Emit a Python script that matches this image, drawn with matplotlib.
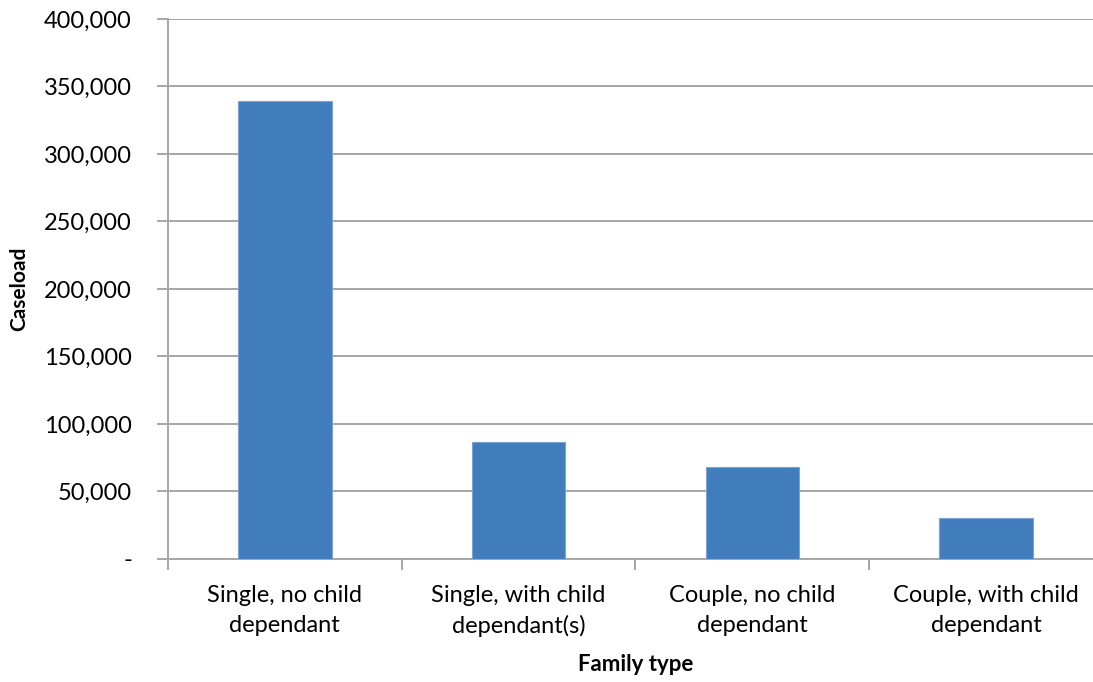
import numpy as np
import matplotlib as mpl
import matplotlib.pyplot as plt
from matplotlib.ticker import FuncFormatter

mpl.rcParams.update({'font.family': ['Lato', 'DejaVu Sans'], 'font.size': 17})

categories = ["Single, no child\ndependant", "Single, with child\ndependant(s)",
              "Couple, no child\ndependant", "Couple, with child\ndependant"]
caseload = [339400, 86300, 68400, 30400]

fig = plt.figure(figsize=(10.93, 6.82), dpi=100)
ax = fig.add_axes([0.1537, 0.1804, 0.8554, 0.7918])

x = np.arange(len(categories))
ax.bar(x, caseload, width=0.4, color="#417cbd", edgecolor="#7aa3d3", linewidth=0.8, zorder=3)

ax.set_xlim(-0.5, len(categories) - 0.5)
ax.set_ylim(0, 400000)
ax.set_yticks(np.arange(0, 400001, 50000))
ax.yaxis.set_major_formatter(FuncFormatter(lambda v, p: "-" if v == 0 else f"{int(v):,}"))
ax.grid(axis="y", color="#a6a6a6", linewidth=1.4, zorder=0)

ax.set_xticks(x)
ax.set_xticklabels(categories, linespacing=1.5)
ax.set_xticks(np.arange(-0.5, len(categories)), minor=True)
ax.tick_params(axis="x", which="major", length=0, pad=19)
ax.tick_params(axis="x", which="minor", length=8, width=1.4, color="#a6a6a6")
ax.tick_params(axis="y", length=8, width=1.4, color="#a6a6a6", pad=18)

for s in ["top", "right"]:
    ax.spines[s].set_visible(False)
for s in ["left", "bottom"]:
    ax.spines[s].set_color("#a6a6a6")
    ax.spines[s].set_linewidth(1.4)

ax.set_xlabel("Family type", fontweight="bold", fontsize=16, labelpad=12)
ax.set_ylabel("Caseload", fontweight="bold", fontsize=15)
ax.yaxis.set_label_coords(-0.148, 0.5)

fig.savefig("out.png", dpi=100)
